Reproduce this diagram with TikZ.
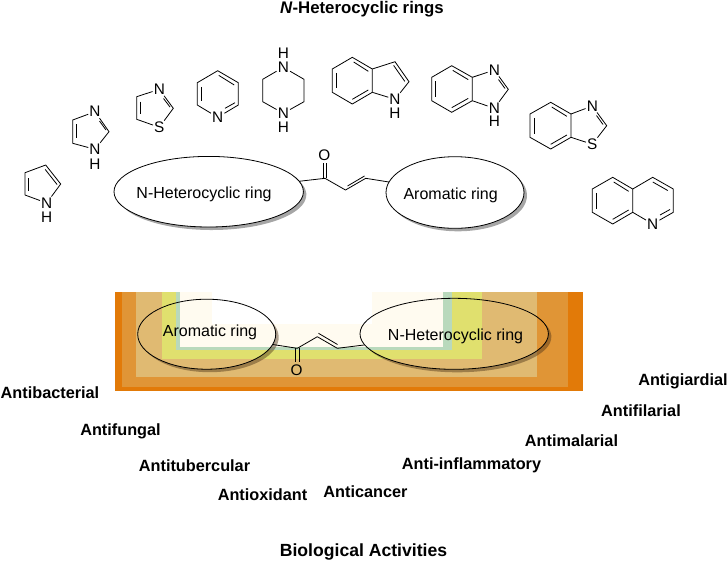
\documentclass[tikz,border=0pt]{standalone}
\usepackage{fontspec}
\setmainfont{Liberation Sans}
\usetikzlibrary{calc,shapes.geometric}
\definecolor{bandA}{HTML}{E27A08}
\definecolor{bandB}{HTML}{E09536}
\definecolor{bandC}{HTML}{E0BA72}
\definecolor{bandD}{HTML}{E0E06E}
\definecolor{bandE}{HTML}{B9D9BC}
\definecolor{bandF}{HTML}{FFFBF0}
\tikzset{
  atom/.style={inner sep=0.6pt, font=\fontsize{11.5pt}{11.5pt}\selectfont},
  hatom/.style={inner sep=0pt, font=\fontsize{11.5pt}{11.5pt}\selectfont},
  ringbox/.style={ellipse, draw, inner sep=0pt, outer sep=0pt, text height=10pt, text depth=0pt, font=\fontsize{12pt}{12pt}\selectfont},
  activity/.style={text height=9.5pt, text depth=1pt, font=\bfseries\fontsize{12.2pt}{12.2pt}\selectfont},
  heading/.style={text height=9.5pt, text depth=1pt, font=\bfseries\fontsize{12.6pt}{12.6pt}\selectfont}
}
% inner line of a double bond: ends, then ring centre
\newcommand{\inbond}[3]{\draw ($(#1)!0.2!(#3)$) -- ($(#2)!0.2!(#3)$);}
% crescent shadow: cx, cy, rx, ry, colour
\newcommand{\ringshadow}[5]{\fill[#5] plot[smooth, domain=-27:153, samples=30] ({#1+#3*cos(\x)},{#2+#4*sin(\x)}) -- plot[smooth, domain=153:-27, samples=30] ({#1+3+#3*cos(\x)},{#2+3+#4*sin(\x)}) -- cycle;}

\begin{document}
\begin{tikzpicture}[x=0.75pt, y=-0.75pt, line width=0.6pt]
\useasboundingbox (0,0) rectangle (727,562);

\node[heading] (titleTop) at (362,8) {\textit{N}-Heterocyclic rings};
\node[heading, font=\bfseries\fontsize{13.2pt}{13.2pt}\selectfont] (titleBottom) at (363.5,551) {Biological Activities};

% pyrrole
\node[atom] (pyrN) at (46.7,203) {N};
\node[hatom] (pyrH) at (46.7,217) {H};
\draw (25,195) -- (25,172.7) -- (45.7,165) -- (60.7,184) -- (pyrN) -- (25,195);
\inbond{25,176}{25,192}{43,187}
\inbond{45.7,165}{60.7,184}{43,187}

% imidazole
\node[atom] (imiN) at (95,111.7) {N};
\node[atom] (imiNH) at (95,149.3) {N};
\node[hatom] (imiH) at (95,164) {H};
\draw (imiN) -- (72.7,120) -- (72.7,143.3) -- (imiNH) -- (109,131.7) -- (imiN);
\inbond{72.7,123}{72.7,140}{91,130}
\draw (99.5,121) -- (106,130);

% thiazole
\node[atom] (thiN) at (159.3,89.3) {N};
\node[atom] (thiS) at (159.3,127.3) {S};
\draw (thiN) -- (136.7,96.7) -- (136.7,119.3) -- (thiS) -- (173.3,108.3) -- (thiN);
\inbond{136.7,100}{136.7,116}{155,108}
\draw (163.5,98.5) -- (170,107);

% pyridine
\node[atom] (pydN) at (217.7,117.3) {N};
\draw (pydN) -- (197.3,105) -- (197.3,82.7) -- (217.7,70.7) -- (238.3,82.7) -- (238.3,105) -- (pydN);
\inbond{197.3,85}{197.3,103}{217.8,94}
\inbond{219,70.7}{238.3,82.7}{217.8,94}
\draw (225,108.3) -- (235,102.7);

% piperazine
\node[atom] (pipA) at (283.3,67.3) {N};
\node[hatom] (pipAH) at (283.3,53.3) {H};
\node[atom] (pipB) at (283.3,113.3) {N};
\node[hatom] (pipBH) at (283.3,127.3) {H};
\draw (pipA) -- (304,79.3) -- (304,101.7) -- (pipB) -- (262.7,101.7) -- (262.7,79.3) -- (pipA);

% indole
\node[atom] (indN) at (395,99.3) {N};
\node[hatom] (indH) at (395,113.3) {H};
\draw (352.3,57.3) -- (372.3,69) -- (372.3,92.3) -- (352.3,104) -- (332.3,92.3) -- (332.3,69) -- cycle;
\draw (372.3,69) -- (395,61.7) -- (409,81.7) -- (indN) -- (372.3,92.3);
\inbond{354,57.3}{372.3,69}{352.3,80.6}
\inbond{372.3,92.3}{352.3,104}{352.3,80.6}
\inbond{332.3,71}{332.3,90}{352.3,80.6}
\inbond{395,61.7}{409,81.7}{388,80}

% benzimidazole
\node[atom] (bimN) at (494.3,70) {N};
\node[atom] (bimNH) at (494.3,108.3) {N};
\node[hatom] (bimH) at (494.3,121.7) {H};
\draw (451.7,65.7) -- (472.3,77.3) -- (472.3,100.7) -- (451.7,112.3) -- (431.7,100.7) -- (431.7,77.3) -- cycle;
\draw (472.3,77.3) -- (bimN) -- (508.3,89.3) -- (bimNH) -- (472.3,100.7);
\inbond{453,65.7}{472.3,77.3}{452,89}
\inbond{472.3,100.7}{451.7,112.3}{452,89}
\inbond{431.7,79}{431.7,99}{452,89}
\draw (498.5,79.5) -- (505,88.5);

% benzothiazole
\node[atom] (btzN) at (592.3,106) {N};
\node[atom] (btzS) at (592.3,144.3) {S};
\draw (550.7,102.3) -- (571,114) -- (571,137.3) -- (550.7,149) -- (530,137.3) -- (530,114) -- cycle;
\draw (571,114) -- (btzN) -- (606.7,125.7) -- (btzS) -- (571,137.3);
\inbond{552,102.3}{571,114}{550.5,125.7}
\inbond{571,137.3}{550.7,149}{550.5,125.7}
\inbond{530,116}{530,135.5}{550.5,125.7}
\draw (596.5,115.5) -- (603,124.5);

% quinoline
\node[atom] (quiN) at (652.7,224) {N};
\draw (612.7,177.3) -- (632.7,189) -- (632.7,212.3) -- (612.7,224) -- (592.3,212.3) -- (592.3,189) -- cycle;
\draw (632.7,189) -- (652.7,177.3) -- (673.3,189) -- (673.3,212.3) -- (quiN) -- (632.7,212.3);
\inbond{614,177.3}{632.7,189}{612.5,200.7}
\inbond{632.7,212.3}{612.7,224}{612.5,200.7}
\inbond{592.3,191}{592.3,210.5}{612.5,200.7}
\inbond{652.7,177.3}{671.5,188}{653,200.7}
\draw (660,215) -- (670,209.5);

% top scaffold
\ringshadow{208.7}{191.7}{94.7}{35.3}{black!35}
\ringshadow{455}{192.5}{69}{35.8}{black!35}
\node[ringbox, minimum width=189.4*0.75pt, minimum height=70.6*0.75pt] (hetTop) at (208.7,191.7) {\makebox[0pt]{\hspace*{-7pt}N-Heterocyclic ring}};
\node[ringbox, minimum width=138*0.75pt, minimum height=71.6*0.75pt] (aroTop) at (455,192.5) {\makebox[0pt]{\hspace*{-6.5pt}Aromatic ring}};
\node[atom] (oxTop) at (324.3,155) {O};
\draw (hetTop) -- (325,178.3) -- (345.5,190) -- (365.7,178.3) -- (aroTop);
\draw (323.3,163) -- (323.3,178.3);
\draw (326.3,163) -- (326.3,178.3);
\draw (347.5,186) -- (364.5,176);

% banded panel
\fill[bandA] (115,291.7) rectangle (582.7,391);
\fill[bandB] (122.3,291.7) rectangle (567.7,386.7);
\fill[bandC] (136,291.7) rectangle (537.3,376.7);
\fill[bandD] (162.3,291.7) rectangle (482.3,359.3);
\fill[bandE] (176,291.7) rectangle (452.3,350);
\fill[bandF] (180,291.7) rectangle (442.7,347.3);
\fill[white] (212.3,291.7) rectangle (371.7,324.3);

% bottom scaffold
\ringshadow{206.7}{334.2}{69}{35}{black!60!brown, opacity=0.45}
\ringshadow{454.2}{333.8}{94.2}{35.5}{black!60!brown, opacity=0.45}
\node[ringbox, minimum width=138*0.75pt, minimum height=70*0.75pt] (aroLow) at (206.7,334.2) {\makebox[0pt]{\hspace*{5pt}\raisebox{3pt}{Aromatic ring}}};
\node[ringbox, minimum width=188.4*0.75pt, minimum height=71*0.75pt] (hetLow) at (454.2,333.8) {\makebox[0pt]{\hspace*{2pt}N-Heterocyclic ring}};
\node[atom] (oxLow) at (296.7,370) {O};
\draw (aroLow) -- (297.3,348.3) -- (317.3,336.7) -- (337.3,348.3) -- (hetLow);
\draw (295.7,348.3) -- (295.7,362);
\draw (298.9,348.3) -- (298.9,362);
\draw (318.5,333.3) -- (337.5,344.5);

% activities
\node[activity] (actA) at (50,393) {Antibacterial};
\node[activity] (actB) at (120.5,430) {Antifungal};
\node[activity] (actC) at (194.5,466) {Antitubercular};
\node[activity] (actD) at (262.5,495) {Antioxidant};
\node[activity] (actE) at (365.5,492) {Anticancer};
\node[activity] (actF) at (471.5,464) {Anti-inflammatory};
\node[activity] (actG) at (571.5,441) {Antimalarial};
\node[activity] (actH) at (641,411) {Antifilarial};
\node[activity] (actI) at (683,380) {Antigiardial};
\end{tikzpicture}
\end{document}
